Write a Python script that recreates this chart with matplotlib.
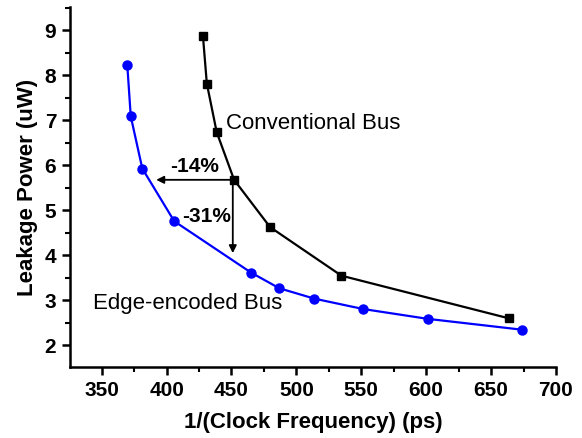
import matplotlib
matplotlib.use("Agg")
from matplotlib import pyplot as plt
from matplotlib.ticker import MultipleLocator

# Conventional bus (black squares)
conv_x = [428, 431, 438.6, 452, 479.7, 534.7, 664]
conv_y = [8.88, 7.82, 6.74, 5.68, 4.63, 3.55, 2.60]

# Edge-encoded bus (blue circles)
edge_x = [369.7, 372.4, 381.3, 405.9, 465, 486.9, 513.8, 551.3, 601.4, 673.8]
edge_y = [8.24, 7.09, 5.93, 4.76, 3.62, 3.27, 3.04, 2.81, 2.59, 2.35]

plt.rcParams['font.family'] = ['Liberation Sans', 'DejaVu Sans']

fig = plt.figure(figsize=(5.82, 4.38), dpi=100)
ax = fig.add_axes([0.1203, 0.162, 0.835, 0.822])

ax.plot(conv_x, conv_y, color='black', lw=1.6, marker='s', ms=5.5, zorder=3)
ax.plot(edge_x, edge_y, color='#0000ff', lw=1.6, marker='o', ms=6.5, zorder=3)

# reduction arrows from the conventional point
ref_x, ref_y = conv_x[3], conv_y[3]
arrow = dict(arrowstyle='-|>', color='black', lw=1.3, mutation_scale=11,
             shrinkA=0, shrinkB=0)
ax.annotate('', xy=(392, ref_y), xytext=(ref_x, ref_y), arrowprops=arrow)
ax.annotate('', xy=(451, 4.05), xytext=(451, ref_y), arrowprops=arrow)
ax.text(421.5, 5.98, '-14%', fontsize=15, fontweight='bold', ha='center', va='center')
ax.text(431, 4.87, '-31%', fontsize=15, fontweight='bold', ha='center', va='center')

ax.text(446, 6.93, 'Conventional Bus', fontsize=16, ha='left', va='center')
ax.text(343.5, 2.94, 'Edge-encoded Bus', fontsize=16, ha='left', va='center')

ax.set_xlim(325.6, 700)
ax.set_ylim(1.52, 9.52)
ax.xaxis.set_major_locator(MultipleLocator(50))
ax.xaxis.set_minor_locator(MultipleLocator(25))
ax.yaxis.set_major_locator(MultipleLocator(1))
ax.yaxis.set_minor_locator(MultipleLocator(0.5))

for s in ['top', 'right']:
    ax.spines[s].set_visible(False)
for s in ['left', 'bottom']:
    ax.spines[s].set_linewidth(1.8)

ax.tick_params(which='major', direction='out', length=6, width=1.8, labelsize=15, pad=4)
ax.tick_params(which='minor', direction='out', length=3.5, width=1.5)
for lab in ax.get_xticklabels() + ax.get_yticklabels():
    lab.set_fontweight('bold')

ax.set_xlabel('1/(Clock Frequency) (ps)', fontsize=16, fontweight='bold', labelpad=9)
ax.set_ylabel('Leakage Power (uW)', fontsize=16, fontweight='bold', labelpad=5)

fig.savefig('out.png', dpi=100)
